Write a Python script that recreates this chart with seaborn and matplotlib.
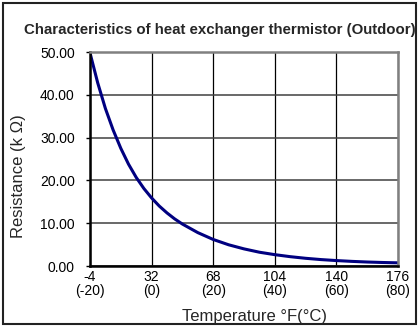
import matplotlib
matplotlib.use("Agg")
import matplotlib.pyplot as plt
import seaborn as sns
import pandas as pd
from matplotlib.patches import Rectangle

# Thermistor values
temp_c = [-20, -17.5, -15, -12.5, -10, -7.5, -5, -2.5, 0, 2.5, 5, 7.5, 10,
          15, 20, 25, 30, 35, 40, 45, 50, 55, 60, 65, 70, 75, 80]
resistance_k = [49.8, 42.8, 36.8, 31.8, 27.5, 23.8, 20.7, 18.1, 15.9, 14.0, 12.4, 11.0, 9.8,
                7.8, 6.2, 4.96, 4.0, 3.22, 2.65, 2.18, 1.8, 1.5, 1.27, 1.08, 0.93, 0.82, 0.74]
tick_c = [-20, 0, 20, 40, 60, 80]
tick_f = [-4, 32, 68, 104, 140, 176]
ytick_vals = [0, 10, 20, 30, 40, 50]

sns.set_theme(style="white")
plt.rcParams["font.family"] = ["Liberation Sans", "DejaVu Sans"]

df = pd.DataFrame({"Temperature": temp_c, "Resistance": resistance_k})

fig = plt.figure(figsize=(4.19, 3.26), dpi=100)
ax = fig.add_axes([90 / 419, 1 - 266 / 326, 308 / 419, 214 / 326])

sns.lineplot(data=df, x="Temperature", y="Resistance", color="#000080", linewidth=2.2, ax=ax)

ax.set_xlim(-20, 80)
ax.set_ylim(0, 50)
ax.set_xticks(tick_c)
ax.set_xticklabels([f"{f}\n({c})" for f, c in zip(tick_f, tick_c)], fontsize=10, linespacing=1.0)
ax.set_yticks(ytick_vals)
ax.set_yticklabels([f"{v:.2f}" for v in ytick_vals], fontsize=10)
ax.tick_params(axis="x", length=0, pad=3, colors="black")
ax.tick_params(axis="y", length=3, width=1, direction="out", pad=8, colors="black", left=True)
ax.set_xlabel("")
ax.set_ylabel("")

ax.grid(True, axis="x", color="black", linewidth=0.9)
ax.grid(True, axis="y", color="#404040", linewidth=1.1)
for side in ["left", "bottom"]:
    ax.spines[side].set_color("black")
    ax.spines[side].set_linewidth(1.8)
for side in ["top", "right"]:
    ax.spines[side].set_color("#808080")
    ax.spines[side].set_linewidth(1.8)

fig.text(220 / 419, 1 - 30 / 326, "Characteristics of heat exchanger thermistor (Outdoor)",
         ha="center", va="center", fontsize=10.8, fontweight="bold")
fig.text(19 / 419, 1 - 176 / 326, "Resistance (k Ω)", rotation=90,
         ha="center", va="center", fontsize=12)
fig.text(254 / 419, 1 - 317 / 326, "Temperature °F(°C)", ha="center", va="center", fontsize=12)

fig.patches.append(Rectangle((3 / 419, 2 / 326), 413 / 419, 321 / 326, transform=fig.transFigure,
                             fill=False, edgecolor="#222222", linewidth=1.5))

fig.savefig("out.png", dpi=100)
